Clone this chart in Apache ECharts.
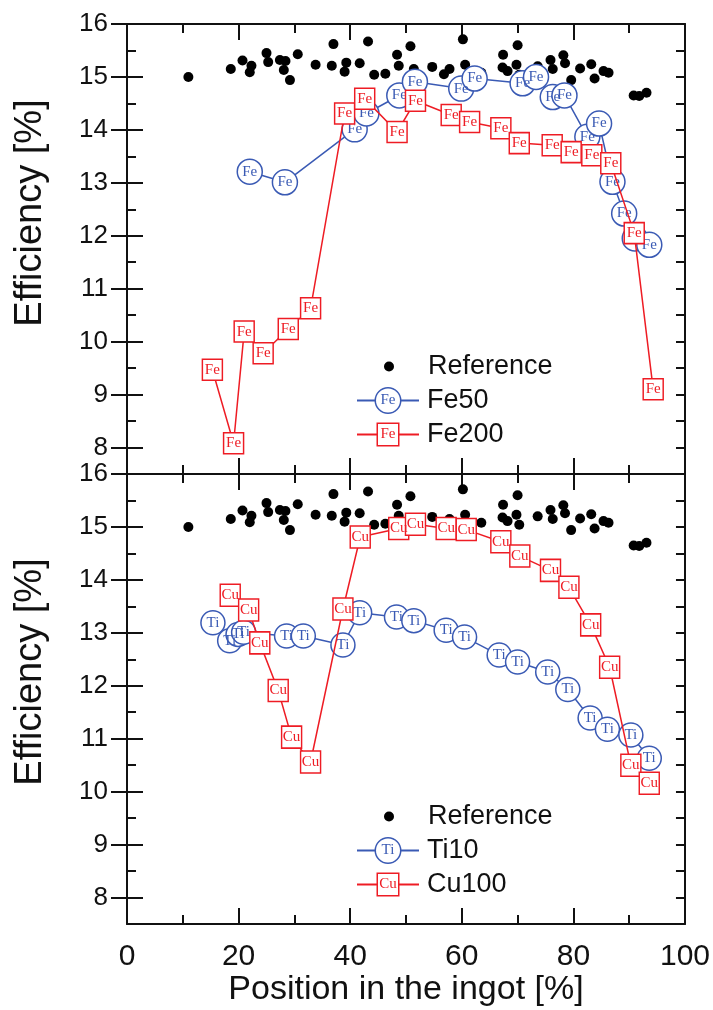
<!DOCTYPE html>
<html><head><meta charset="utf-8">
<script src="https://cdn.jsdelivr.net/npm/echarts@6/dist/echarts.min.js"></script>
<style>html,body{margin:0;padding:0;background:#fff}#c{width:713px;height:1010px}</style>
</head><body><div id="c"></div>
<script>
// ---- data ----
const yTicks = [8, 9, 10, 11, 12, 13, 14, 15, 16];
const reference = [
  [11.0,15.00],[18.6,15.15],[20.7,15.31],[22.0,15.09],[22.3,15.21],[25.0,15.45],[25.3,15.28],
  [27.4,15.32],[28.1,15.13],[28.4,15.30],[29.2,14.94],[30.6,15.43],[33.8,15.23],[36.7,15.21],
  [37.0,15.62],[39.0,15.10],[39.3,15.27],[41.7,15.26],[43.2,15.67],[44.3,15.04],[46.3,15.06],
  [48.4,15.42],[48.7,15.21],[50.8,15.58],[51.4,15.15],[54.7,15.19],[56.8,15.05],[57.8,15.15],
  [60.2,15.71],[60.6,15.23],[63.5,15.08],[67.3,15.18],[67.4,15.42],[68.2,15.11],[69.8,15.23],
  [70.0,15.60],[70.3,15.04],[73.6,15.20],[75.9,15.32],[76.3,15.15],[78.2,15.41],[78.5,15.26],
  [79.6,14.94],[81.2,15.16],[83.2,15.24],[83.8,14.97],[85.4,15.11],[86.3,15.08],[90.8,14.65],
  [91.8,14.64],[93.1,14.70]
];
const fe50 = [
  [22.0,13.21],[28.3,13.01],[40.8,14.01],[42.9,14.31],[48.8,14.65],[51.6,14.91],[59.9,14.78],
  [62.3,14.97],[70.9,14.88],[73.3,15.00],[76.3,14.62],[78.4,14.65],[82.5,13.87],[84.6,14.12],
  [87.0,13.02],[89.1,12.42],[91.0,11.95],[93.6,11.83]
];
const fe200 = [
  [15.3,9.47],[19.1,8.08],[21.0,10.19],[24.4,9.78],[28.9,10.24],[32.9,10.63],[39.0,14.31],
  [42.6,14.59],[48.4,13.96],[51.7,14.55],[58.1,14.28],[61.4,14.15],[67.0,14.03],[70.3,13.75],
  [76.2,13.71],[79.6,13.58],[83.3,13.52],[86.7,13.37],[90.9,12.05],[94.3,9.10]
];
const ti10 = [
  [15.4,13.19],[18.4,12.85],[19.9,12.97],[20.9,13.01],[28.6,12.94],[31.6,12.94],[38.7,12.77],
  [41.7,13.38],[48.3,13.30],[51.4,13.23],[57.2,13.05],[60.5,12.92],[66.7,12.58],[70.0,12.45],
  [75.4,12.26],[79.0,11.93],[83.0,11.39],[86.1,11.18],[90.3,11.07],[93.6,10.63]
];
const cu100 = [
  [18.5,13.71],[21.8,13.43],[23.8,12.81],[27.1,11.91],[29.5,11.03],[32.9,10.56],[38.7,13.45],
  [41.8,14.81],[48.7,14.97],[51.7,15.05],[57.2,14.97],[60.8,14.95],[67.0,14.72],[70.4,14.45],
  [75.9,14.18],[79.2,13.86],[83.1,13.15],[86.5,12.35],[90.3,10.50],[93.6,10.16]
];

// ---- style ----
const BLUE = '#3a5ab4', RED = '#ee1c24', BLACK = '#111';
const FONT = '"Liberation Sans", Arial, sans-serif';
const SERIF = '"Liberation Serif", "DejaVu Serif", serif';

const chart = echarts.init(document.getElementById('c'), null, {renderer: 'canvas'});

const grids = [
  {left: 127, top: 24, width: 558, height: 450},
  {left: 127, top: 474, width: 558, height: 450}
];

const axLine = {show: true, onZero: false, lineStyle: {color: BLACK, width: 2}};

function xAxesFor(gi) {
  const base = {
    type: 'value', gridIndex: gi, min: 0, max: 100, interval: 20,
    axisLine: axLine,
    axisTick: {show: true, inside: true, length: 16, lineStyle: {color: BLACK, width: 2}},
    minorTick: {show: true, splitNumber: 2, length: 9, lineStyle: {color: BLACK, width: 2}},
    splitLine: {show: false}, minorSplitLine: {show: false}
  };
  const bottom = Object.assign({}, base, {position: 'bottom'});
  if (gi === 1) {
    bottom.axisLabel = {show: true, margin: 18, fontSize: 30, fontFamily: FONT, color: BLACK};
    bottom.name = 'Position in the ingot [%]';
    bottom.nameLocation = 'middle';
    bottom.nameGap = 48;
    bottom.nameTextStyle = {fontSize: 34, fontFamily: FONT, color: BLACK};
  } else {
    bottom.axisLabel = {show: false};
  }
  const top = Object.assign({}, base, {position: 'top', axisLabel: {show: false}});
  return [bottom, top];
}

function yAxesFor(gi) {
  const base = {type: 'value', gridIndex: gi, min: 7.5, max: 16, interval: 0.5,
    splitLine: {show: false}};
  const minorL = Object.assign({}, base, {position: 'left', axisLine: axLine,
    axisTick: {show: true, inside: true, length: 9, lineStyle: {color: BLACK, width: 2}},
    axisLabel: {show: true, customValues: yTicks, margin: 19, fontSize: 26, fontFamily: FONT, color: BLACK}});
  const majorL = Object.assign({}, base, {position: 'left', axisLine: {show: false},
    axisTick: {show: true, inside: true, length: 16, customValues: yTicks, lineStyle: {color: BLACK, width: 2}},
    axisLabel: {show: false}});
  const minorR = Object.assign({}, base, {position: 'right', axisLine: axLine,
    axisTick: {show: true, inside: true, length: 9, lineStyle: {color: BLACK, width: 2}},
    axisLabel: {show: false}});
  const majorR = Object.assign({}, base, {position: 'right', axisLine: {show: false},
    axisTick: {show: true, inside: true, length: 16, customValues: yTicks, lineStyle: {color: BLACK, width: 2}},
    axisLabel: {show: false}});
  return [minorL, majorL, minorR, majorR];
}

function refSeries(xi, yi) {
  return {type: 'scatter', name: 'Reference', data: reference, xAxisIndex: xi, yAxisIndex: yi,
    symbol: 'circle', symbolSize: 10, itemStyle: {color: '#000', opacity: 1}, z: 2, emphasis: {disabled: true}};
}
function lineSeries(name, data, color, symbol, size, text, xi, yi, z) {
  return {type: 'line', name: name, data: data, xAxisIndex: xi, yAxisIndex: yi,
    symbol: symbol, symbolSize: size, showAllSymbol: true, clip: false,
    lineStyle: {color: color, width: 1.5},
    itemStyle: {color: '#fff', borderColor: color, borderWidth: 1.5},
    label: {show: true, position: 'inside', formatter: text, color: color,
      fontFamily: SERIF, fontSize: 15},
    emphasis: {disabled: true}, z: z};
}

const rich = {
  lb: {width: 19, height: 2, backgroundColor: BLUE},
  lr: {width: 21, height: 2, backgroundColor: RED},
  cb: {width: 24, height: 24, borderRadius: 12, borderColor: BLUE, borderWidth: 1.5,
       backgroundColor: '#fff', align: 'center', color: BLUE, fontFamily: SERIF, fontSize: 15, lineHeight: 24},
  sr: {width: 20, height: 21, borderColor: RED, borderWidth: 1.5,
       backgroundColor: '#fff', align: 'center', color: RED, fontFamily: SERIF, fontSize: 15, lineHeight: 21},
  g: {width: 8, height: 2},
  s1: {width: 27, height: 2},
  d: {width: 10, height: 10, borderRadius: 5, backgroundColor: '#000'},
  s2: {width: 34, height: 2}
};
function legendFmt(name) {
  if (name === 'Reference') return '{s1|}{d|}{s2|}Reference';
  if (name === 'Fe50') return '{lb|}{cb|Fe}{lb|}{g|}Fe50';
  if (name === 'Fe200') return '{lr|}{sr|Fe}{lr|}{g|}Fe200';
  if (name === 'Ti10') return '{lb|}{cb|Ti}{lb|}{g|}Ti10';
  if (name === 'Cu100') return '{lr|}{sr|Cu}{lr|}{g|}Cu100';
  return name;
}
function legendFor(names, top) {
  return {show: true, data: names, left: 351, top: top, orient: 'vertical',
    itemWidth: 0, itemHeight: 0, itemGap: 7, padding: 0, selectedMode: false,
    formatter: legendFmt,
    textStyle: {fontSize: 27, fontFamily: FONT, color: BLACK, lineHeight: 26, rich: rich}};
}

const titleStyle = {text: 'Efficiency [%]', fontSize: 38, fontFamily: FONT, fill: BLACK,
  align: 'center', verticalAlign: 'middle', textAlign: 'center', textVerticalAlign: 'middle'};

const option = {
  animation: false,
  backgroundColor: '#fff',
  grid: grids,
  xAxis: [].concat(xAxesFor(0), xAxesFor(1)),
  yAxis: [].concat(yAxesFor(0), yAxesFor(1)),
  legend: [legendFor(['Reference', 'Fe50', 'Fe200'], 353), legendFor(['Reference', 'Ti10', 'Cu100'], 803)],
  graphic: [
    {type: 'text', x: 31, y: 213, rotation: Math.PI / 2, style: Object.assign({}, titleStyle)},
    {type: 'text', x: 31, y: 672, rotation: Math.PI / 2, style: Object.assign({}, titleStyle)}
  ],
  series: [
    refSeries(0, 0),
    lineSeries('Fe50', fe50, BLUE, 'circle', 25, 'Fe', 0, 0, 3),
    lineSeries('Fe200', fe200, RED, 'rect', [20, 21], 'Fe', 0, 0, 4),
    refSeries(2, 4),
    lineSeries('Ti10', ti10, BLUE, 'circle', 24, 'Ti', 2, 4, 3),
    lineSeries('Cu100', cu100, RED, 'rect', [20, 22], 'Cu', 2, 4, 4)
  ]
};
chart.setOption(option);
</script>
</body></html>
